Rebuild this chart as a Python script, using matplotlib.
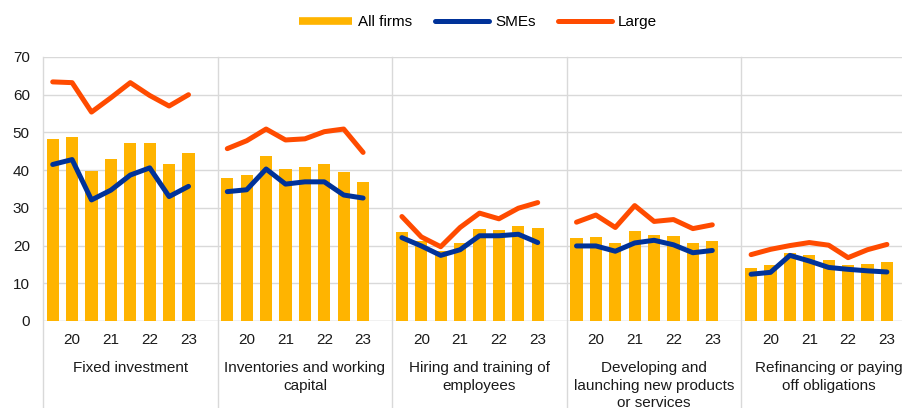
import matplotlib
matplotlib.use("Agg")
import matplotlib.pyplot as plt
from matplotlib.lines import Line2D
import matplotlib.transforms as mtransforms

plt.rcParams['font.family'] = ['Liberation Sans', 'DejaVu Sans']

categories = ["Fixed investment",
              "Inventories and working\ncapital",
              "Hiring and training of\nemployees",
              "Developing and\nlaunching new products\nor services",
              "Refinancing or paying\noff obligations"]
year_labels = ["20", "21", "22", "23"]

all_firms = [
    [48.3, 48.9, 39.7, 43.0, 47.1, 47.3, 41.6, 44.5],
    [37.8, 38.8, 43.7, 40.3, 40.9, 41.6, 39.6, 36.9],
    [23.6, 21.3, 18.6, 20.8, 24.5, 24.1, 25.2, 24.6],
    [21.9, 22.3, 20.6, 23.8, 22.9, 22.6, 20.6, 21.2],
    [14.0, 14.8, 18.0, 17.6, 16.2, 14.8, 15.2, 15.6],
]
smes = [
    [41.5, 42.8, 32.1, 34.7, 38.7, 40.6, 33.0, 35.7],
    [34.3, 34.8, 40.3, 36.3, 36.9, 36.9, 33.4, 32.6],
    [22.1, 19.9, 17.4, 18.9, 22.6, 22.6, 23.0, 20.8],
    [19.9, 19.9, 18.5, 20.7, 21.4, 20.2, 18.1, 18.7],
    [12.4, 12.9, 17.4, 15.9, 14.2, 13.7, 13.3, 13.0],
]
large = [
    [63.4, 63.2, 55.4, 59.2, 63.2, 59.8, 57.0, 60.0],
    [45.7, 47.8, 50.9, 48.0, 48.3, 50.2, 50.9, 44.7],
    [27.7, 22.3, 19.7, 24.8, 28.6, 27.1, 29.9, 31.4],
    [26.2, 28.1, 24.8, 30.6, 26.4, 26.9, 24.5, 25.5],
    [17.6, 19.0, 20.0, 20.8, 20.1, 16.8, 18.9, 20.3],
]

C_BAR = "#FFB400"
C_SME = "#003299"
C_LARGE = "#FF4B00"
C_GRID = "#D9D9D9"
C_TXT = "#1A1A1A"
FS = 11

W, H = 903, 408
fig = plt.figure(figsize=(W / 100, H / 100), dpi=100)
left, right, bottom, top = 43, 916, 321, 57
ax = fig.add_axes([left / W, (H - bottom) / H, (right - left) / W, (bottom - top) / H])

slots = 9
n = len(categories)
for k in range(n):
    xs = [k * slots + j for j in range(8)]
    ax.bar(xs, all_firms[k], width=0.63, color=C_BAR, zorder=2)
    ax.plot(xs, smes[k], color=C_SME, lw=3.6, solid_joinstyle='round', solid_capstyle='round', zorder=3)
    ax.plot(xs, large[k], color=C_LARGE, lw=3.6, solid_joinstyle='round', solid_capstyle='round', zorder=4)

ax.set_xlim(-0.5, n * slots - 0.5)
ax.set_ylim(0, 70)
ax.set_yticks(range(0, 71, 10))
ax.yaxis.grid(True, color=C_GRID, lw=1.0, zorder=0)
ax.set_axisbelow(True)
for s in ax.spines.values():
    s.set_visible(False)
ax.tick_params(axis='y', length=0, pad=9.5, labelsize=FS, labelcolor=C_TXT)
ax.set_xticks([])

# group separators extending below the axis
trans = mtransforms.blended_transform_factory(ax.transData, ax.transAxes)
ext = -(H - bottom) / (bottom - top)
for k in range(n + 1):
    ax.plot([k * slots - 0.5] * 2, [1, ext], transform=trans, color=C_GRID, lw=1.0,
            clip_on=False, zorder=1)
ax.axhline(0, color=C_GRID, lw=1.0, zorder=1)

# year labels and category labels
for k in range(n):
    for i, lab in enumerate(year_labels):
        ax.annotate(lab, xy=(k * slots + 2 * i + 1, 0), xycoords=trans,
                    xytext=(0, -18.5), textcoords='offset pixels',
                    ha='center', va='center', fontsize=FS, color=C_TXT)
    ax.annotate(categories[k], xy=(k * slots + 4, 0), xycoords=trans,
                xytext=(0, -40), textcoords='offset pixels',
                ha='center', va='top', fontsize=FS, color=C_TXT, linespacing=1.33)

handles = [Line2D([], [], color=C_BAR, lw=5.5, solid_capstyle='butt'),
           Line2D([], [], color=C_SME, lw=3.6, solid_capstyle='round'),
           Line2D([], [], color=C_LARGE, lw=3.6, solid_capstyle='round')]
fig.legend(handles, ["All firms", "SMEs", "Large"], loc='center', ncol=3,
           bbox_to_anchor=(478 / W, 1 - 22 / H), frameon=False, fontsize=FS,
           handlelength=3.5, handletextpad=0.4, columnspacing=1.5)

fig.savefig("out.png", dpi=100)
